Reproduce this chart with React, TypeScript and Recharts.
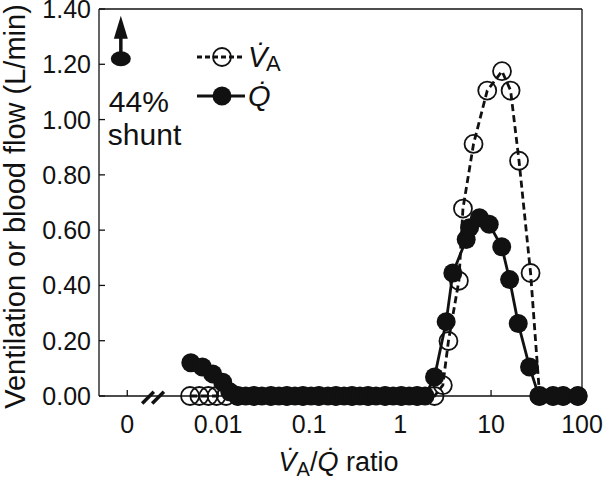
import React from 'react';
import { ScatterChart, Scatter, XAxis, YAxis, ReferenceLine, Legend } from 'recharts';

// V/Q ratio (log axis); 0.001 is where the "0" (shunt) position sits
const ratioTicks = [0.001, 0.01, 0.1, 1, 10, 100];
const flowTicks = [0, 0.2, 0.4, 0.6, 0.8, 1.0, 1.2, 1.4];

// blood flow Q (filled)
const qRatio = [
  0.005, 0.0067, 0.0087, 0.0112, 0.0134, 0.0164, 0.0201, 0.0247, 0.0302, 0.038,
  0.0465, 0.0569, 0.0698, 0.0855, 0.105, 0.128, 0.161, 0.197, 0.242, 0.296,
  0.362, 0.444, 0.544, 0.684, 0.838, 1.03, 1.26, 1.54, 1.88, 2.39,
  3.21, 3.8, 5.33, 5.8, 7.46, 9.55, 13.1, 16.0, 19.9, 26.5,
  33.5, 48, 62, 90,
];
const qFlow = [
  0.12, 0.105, 0.08, 0.05, 0.015, 0, 0, 0, 0, 0,
  0, 0, 0, 0, 0, 0, 0, 0, 0, 0,
  0, 0, 0, 0, 0, 0, 0, 0, 0, 0.069,
  0.269, 0.445, 0.566, 0.609, 0.645, 0.621, 0.54, 0.421, 0.262, 0.105,
  0, 0, 0, 0,
];

// alveolar ventilation VA (open)
const vaRatio = [
  0.0049, 0.0062, 0.0078, 0.0096, 0.0122, 0.0164, 0.0247, 0.038, 0.0569, 0.0855,
  0.128, 0.197, 0.296, 0.444, 0.684, 1.03, 1.54, 2.39, 2.95, 3.4,
  4.43, 4.91, 6.42, 9.08, 13.2, 16.4, 20.3, 27.2, 34.2, 48,
  62, 90,
];
const vaFlow = [
  0, 0, 0, 0, 0, 0, 0, 0, 0, 0,
  0, 0, 0, 0, 0, 0, 0, 0, 0.039, 0.199,
  0.417, 0.678, 0.912, 1.105, 1.175, 1.105, 0.851, 0.445, 0, 0,
  0, 0,
];

// shunt marker (off scale)
const shuntRatio = [0.00085];
const shuntFlow = [1.22];
const shuntPercent = 44;

const FONT = '"Liberation Sans", Arial, Helvetica, sans-serif';
const INK = '#111';

const qData = qRatio.map((x, i) => ({ x, y: qFlow[i] }));
const vaData = vaRatio.map((x, i) => ({ x, y: vaFlow[i] }));
const shuntData = shuntRatio.map((x, i) => ({ x, y: shuntFlow[i] }));

const XTick = (props: any) => {
  const { x, y, payload } = props;
  const v = payload.value;
  const label = v === 0.001 ? '0' : String(v);
  return (
    <g>
      <line x1={x} y1={y} x2={x} y2={y - 6} stroke={INK} strokeWidth={1.3} />
      <text x={x} y={y + 37} textAnchor="middle" fontSize={25} fill={INK}>
        {label}
      </text>
    </g>
  );
};

const YTick = (props: any) => {
  const { x, y, payload } = props;
  return (
    <g>
      <line x1={x} y1={y} x2={x + 6} y2={y} stroke={INK} strokeWidth={1.3} />
      <text x={x - 8} y={y} dy="0.36em" textAnchor="end" fontSize={25} fill={INK}>
        {Number(payload.value).toFixed(2)}
      </text>
    </g>
  );
};

const XTitle = (props: any) => {
  const vb = props.viewBox || { x: 99, y: 396, width: 482 };
  return (
    <text x={vb.x + vb.width / 2 - 2} y={vb.y + 75} textAnchor="middle" fontSize={27} fill={INK}>
      <tspan fontStyle="italic">{'V\u0307'}</tspan>
      <tspan fontSize={20} dy={5}>A</tspan>
      <tspan dy={-5}>/</tspan>
      <tspan fontStyle="italic">{'Q\u0307'}</tspan>
      <tspan> ratio</tspan>
    </text>
  );
};

const YTitle = (props: any) => {
  const vb = props.viewBox || { x: 0, y: 10, height: 386 };
  const cx = vb.x + 25;
  const cy = vb.y + vb.height / 2 + 4;
  return (
    <text x={cx} y={cy} transform={`rotate(-90 ${cx} ${cy})`} textAnchor="middle" fontSize={29} fill={INK}>
      Ventilation or blood flow (L/min)
    </text>
  );
};

const OpenDot = (props: any) => (
  <circle cx={props.cx} cy={props.cy} r={9} fill="none" stroke={INK} strokeWidth={1.8} />
);

const FilledDot = (props: any) => (
  <circle cx={props.cx} cy={props.cy} r={9.5} fill={INK} stroke="none" />
);

const ShuntMark = (props: any) => {
  const { cx, cy } = props;
  return (
    <g>
      <line x1={cx} y1={cy - 4} x2={cx} y2={cy - 26} stroke={INK} strokeWidth={3.5} />
      <polygon points={`${cx},${cy - 43} ${cx - 7},${cy - 20} ${cx + 7},${cy - 20}`} fill={INK} />
      <ellipse cx={cx} cy={cy} rx={10} ry={7.5} fill={INK} />
      <text x={cx - 12} y={cy + 53} fontSize={30} fill={INK}>{`${shuntPercent}%`}</text>
      <text x={cx - 13} y={cy + 86} fontSize={30} fill={INK}>shunt</text>
    </g>
  );
};

const LegendBox = () => (
  <svg width={100} height={80} style={{ overflow: 'visible', fontFamily: FONT }}>
    <line x1={1} y1={17} x2={49} y2={17} stroke={INK} strokeWidth={2.8} strokeDasharray="5 3" />
    <circle cx={26} cy={17} r={9} fill="none" stroke={INK} strokeWidth={1.8} />
    <text x={52} y={27} fontSize={29} fontStyle="italic" fill={INK}>{'V\u0307'}</text>
    <text x={70} y={31} fontSize={22} fill={INK}>A</text>
    <line x1={1} y1={56} x2={49} y2={56} stroke={INK} strokeWidth={2.8} />
    <circle cx={26} cy={56} r={9.5} fill={INK} />
    <text x={52} y={66} fontSize={29} fontStyle="italic" fill={INK}>{'Q\u0307'}</text>
  </svg>
);

const axisLine = { stroke: INK, strokeWidth: 1.3 };

export default function App() {
  return (
    <div style={{ position: 'absolute', left: 0, top: 0, fontFamily: FONT, background: '#fff' }}>
      <ScatterChart width={604} height={478} margin={{ top: 9, right: 22, bottom: 0, left: 0 }}>
        <XAxis
          type="number"
          dataKey="x"
          scale="log"
          domain={[0.000489, 100]}
          ticks={ratioTicks}
          height={82}
          tickSize={0}
          tickMargin={0}
          tickLine={false}
          axisLine={axisLine}
          tick={<XTick />}
          label={<XTitle />}
          interval={0}
        />
        <XAxis
          xAxisId="top"
          orientation="top"
          type="number"
          dataKey="x"
          scale="log"
          domain={[0.000489, 100]}
          ticks={ratioTicks}
          height={1}
          mirror
          tickSize={6}
          tick={false}
          tickLine={{ stroke: INK, strokeWidth: 1.3 }}
          axisLine={axisLine}
          interval={0}
        />
        <YAxis
          type="number"
          dataKey="y"
          domain={[0, 1.4]}
          ticks={flowTicks}
          width={99}
          tickSize={0}
          tickMargin={0}
          tickLine={false}
          axisLine={axisLine}
          tick={<YTick />}
          label={<YTitle />}
          interval={0}
        />
        <YAxis
          yAxisId="right"
          orientation="right"
          type="number"
          dataKey="y"
          domain={[0, 1.4]}
          ticks={flowTicks}
          width={1}
          mirror
          tickSize={6}
          tick={false}
          tickLine={{ stroke: INK, strokeWidth: 1.3 }}
          axisLine={axisLine}
          interval={0}
        />
        <ReferenceLine
          segment={[{ x: 0.00146, y: -0.027 }, { x: 0.00196, y: 0.015 }]}
          stroke={INK}
          strokeWidth={3.5}
          ifOverflow="visible"
        />
        <ReferenceLine
          segment={[{ x: 0.00188, y: -0.027 }, { x: 0.00253, y: 0.015 }]}
          stroke={INK}
          strokeWidth={3.5}
          ifOverflow="visible"
        />
        <Legend
          layout="vertical"
          align="center"
          verticalAlign="middle"
          wrapperStyle={{ left: 196, top: 40, width: 100 }}
          content={() => <LegendBox />}
        />
        <Scatter
          name="VA"
          data={vaData}
          fill={INK}
          line={{ stroke: INK, strokeWidth: 2.8, strokeDasharray: '7 4' }}
          lineType="joint"
          shape={<OpenDot />}
          isAnimationActive={false}
        />
        <Scatter
          name="Q"
          data={qData}
          fill={INK}
          line={{ stroke: INK, strokeWidth: 2.8 }}
          lineType="joint"
          shape={<FilledDot />}
          isAnimationActive={false}
        />
        <Scatter
          name="shunt"
          data={shuntData}
          fill={INK}
          shape={<ShuntMark />}
          legendType="none"
          isAnimationActive={false}
        />
      </ScatterChart>
    </div>
  );
}
